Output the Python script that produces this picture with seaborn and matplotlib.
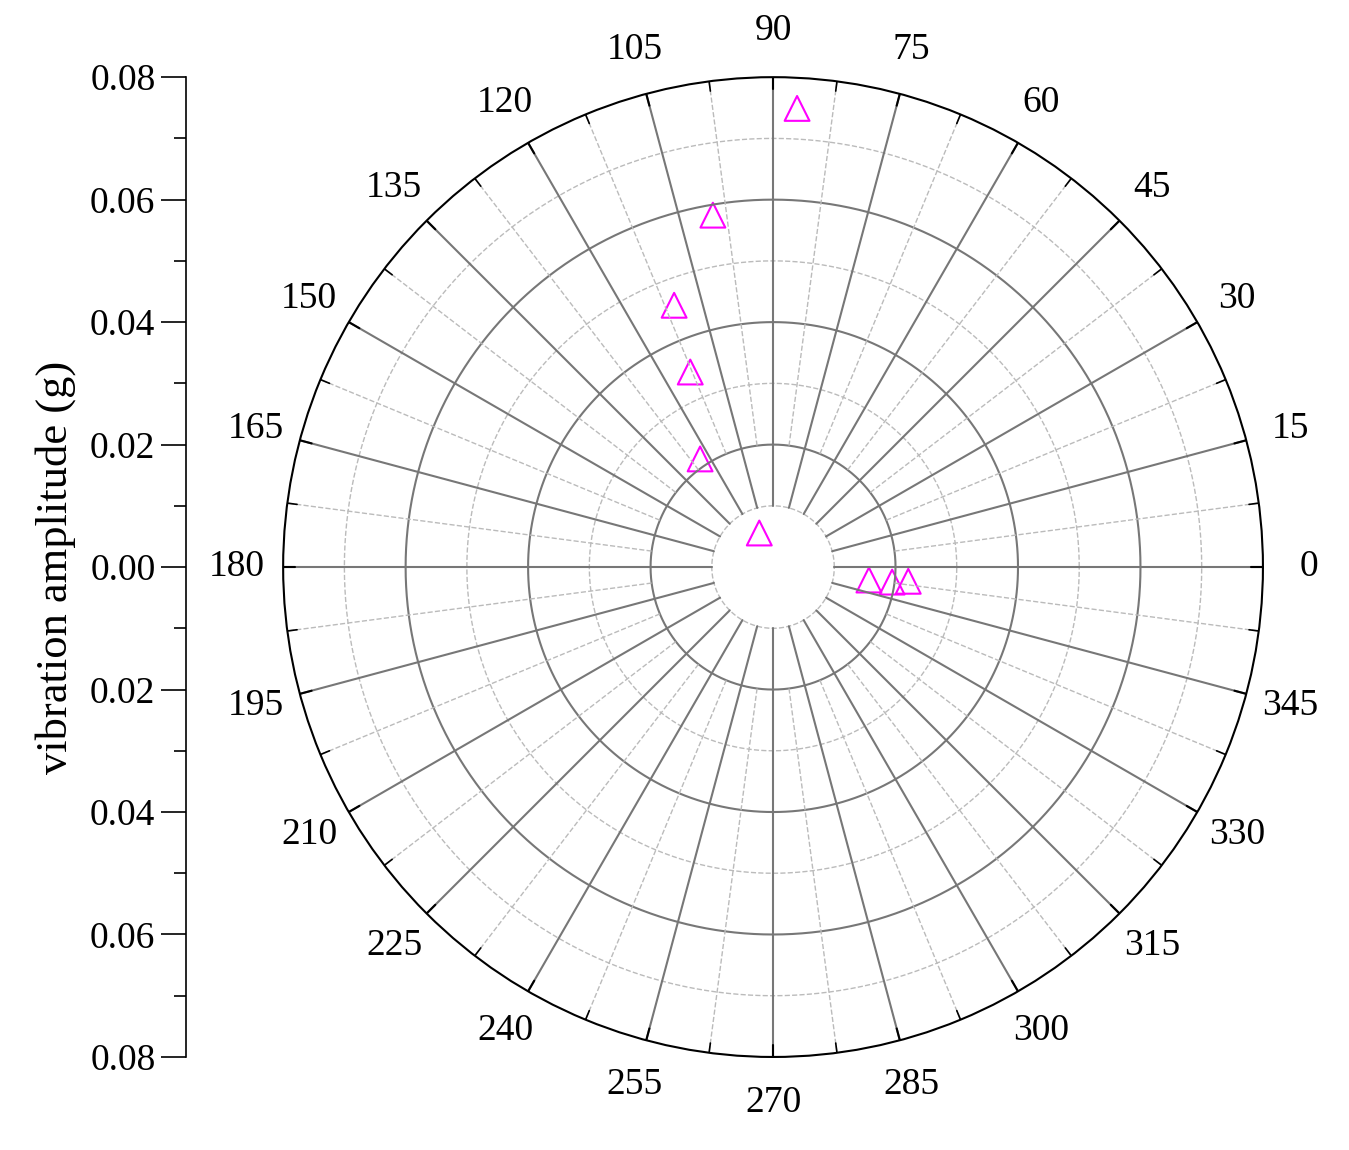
import numpy as np
import matplotlib
matplotlib.use("Agg")
import matplotlib.pyplot as plt
import seaborn as sns

sns.set_style("white")
plt.rcParams['font.family'] = ['Liberation Serif', 'DejaVu Serif']
plt.rcParams['text.color'] = 'black'
plt.rcParams['ytick.color'] = 'black'
plt.rcParams['axes.labelcolor'] = 'black'

angles_deg = [87.0, 99.7, 110.7, 113.0, 124.0, 112.0, 352.3, 352.8, 354.0]
amplitudes = [0.0750, 0.0583, 0.0457, 0.0346, 0.0213, 0.0060, 0.0158, 0.0196, 0.0222]
angle_labels = list(range(0, 360, 15))
radial_ticks = [-0.08, -0.06, -0.04, -0.02, 0.0, 0.02, 0.04, 0.06, 0.08]
rmax = 0.08

fig = plt.figure(figsize=(13.49, 11.5), dpi=100)
ax = fig.add_axes([0.2098, 0.0809, 0.7265, 0.852], projection='polar')
ax.set_ylim(0, rmax)
ax.grid(False)
ax.set_xticks([]); ax.set_yticks([])
ax.spines['polar'].set_color('black'); ax.spines['polar'].set_linewidth(1.5)

th = np.linspace(0, 2*np.pi, 721)
for r in [0.02, 0.04, 0.06]:
    ax.plot(th, np.full_like(th, r), color='#777777', lw=1.5)
for r in [0.01, 0.03, 0.05, 0.07]:
    ax.plot(th, np.full_like(th, r), color='#bbbbbb', lw=1, ls='--')
for a in range(0, 360, 15):
    t = np.deg2rad(a)
    ax.plot([t, t], [0.01, rmax], color='#777777', lw=1.5)
    ax.plot([t, t], [rmax*0.975, rmax], color='black', lw=1.5)
    t2 = np.deg2rad(a + 7.5)
    ax.plot([t2, t2], [0.02, rmax], color='#bbbbbb', lw=1, ls='--')
    ax.plot([t2, t2], [rmax*0.98, rmax], color='black', lw=1.2)
for a in angle_labels:
    ax.text(np.deg2rad(a), 0.0875, str(a), ha='center', va='center', fontsize=27, clip_on=False)

sns.scatterplot(x=np.deg2rad(angles_deg), y=amplitudes, ax=ax, marker='^', s=320,
                facecolor='none', edgecolor='magenta', linewidth=1.5)
ax.set_ylim(0, rmax)

lax = fig.add_axes([0.1379, 0.0809, 0.001, 0.852])
lax.set_ylim(-rmax, rmax)
lax.set_xticks([])
for s in ['top', 'right', 'bottom']:
    lax.spines[s].set_visible(False)
lax.spines['left'].set_color('black'); lax.spines['left'].set_linewidth(1.2)
lax.set_yticks(radial_ticks)
lax.set_yticklabels([f"{abs(v):.2f}" for v in radial_ticks], fontsize=27)
lax.set_yticks(np.arange(-0.07, 0.08, 0.02), minor=True)
lax.tick_params(axis='y', which='major', length=18, width=1.2, direction='out', pad=4,
                left=True, right=False, labelleft=True)
lax.tick_params(axis='y', which='minor', length=9, width=1.2, direction='out',
                left=True, right=False)
lax.set_ylabel('vibration amplitude (g)', fontsize=32, labelpad=10)

fig.savefig('out.png', dpi=100)
